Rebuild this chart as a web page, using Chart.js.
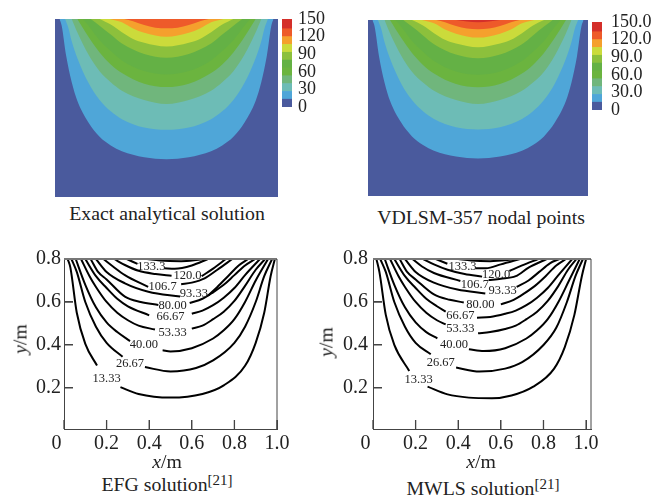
<!DOCTYPE html>
<html lang="en">

<head>
  <meta charset="UTF-8" />
  <title>Contour comparison</title>
  <style>
    body { margin: 0; background: #fff; width: 668px; height: 497px; overflow: hidden; position: relative; }
    canvas { position: absolute; }
    .cap { position: absolute; font: 19.8px "Liberation Serif", serif; color: #222; white-space: nowrap; transform: translate(-50%, -50%); }
    .cap sup { font-size: 15px; line-height: 0; vertical-align: 6px; }
    .rot { transform: translate(-50%, -50%) rotate(-90deg); }
  </style>
</head>

<body>
  <canvas id="bandsExact" width="223" height="178" style="left:55px;top:19px"></canvas>
  <canvas id="barExact" width="60" height="108" style="left:282px;top:9px"></canvas>
  <canvas id="bandsVdlsm" width="220" height="176" style="left:368px;top:20px"></canvas>
  <canvas id="barVdlsm" width="72" height="108" style="left:592px;top:12px"></canvas>
  <canvas id="efg" width="277" height="215" style="left:20px;top:247px"></canvas>
  <canvas id="mwls" width="285" height="215" style="left:326px;top:247px"></canvas>

  <div class="cap" style="left:167px;top:213px">Exact analytical solution</div>
  <div class="cap" style="left:481px;top:217px">VDLSM-357 nodal points</div>
  <div class="cap" style="left:167px;top:484px">EFG solution<sup>[21]</sup></div>
  <div class="cap" style="left:483px;top:488px">MWLS solution<sup>[21]</sup></div>
  <div class="cap" style="left:167px;top:461px"><i>x</i>/m</div>
  <div class="cap" style="left:481px;top:461px"><i>x</i>/m</div>
  <div class="cap rot" style="left:20px;top:339px"><i>y</i>/m</div>
  <div class="cap rot" style="left:326px;top:342px"><i>y</i>/m</div>

  <script src="https://cdn.jsdelivr.net/npm/chart.js@4.4.1/dist/chart.umd.min.js"></script>

  <script>
    // colour bands, dark blue at the bottom up to red at the top
    const bandColors = ["#4a5a9d", "#4fa6d8", "#6dbcb6", "#70b67c", "#6bb43f", "#64b145", "#8cc03c", "#cbdb3b", "#f5a02d", "#ee5a2a", "#d42f2a"];
    const barSteps = [13.3, 13.3, 13.3, 13.4, 13.3, 13.4, 13.3, 13.4, 13.3, 13.4, 16.6];
    const barTicks = [0, 30, 60, 90, 120, 150];

    const band0 = [[0, 0], [1, 0]];
    const band1 = [[.02, .8], [.03, .77], [.05, .635], [.075, .516], [.1, .433], [.15, .335], [.2, .271], [.25, .232], [.3, .206], [.4, .179], [.5, .17], [.6, .179], [.7, .206], [.75, .232], [.8, .271], [.85, .335], [.9, .433], [.925, .516], [.95, .635], [.97, .77], [.98, .8]];
    const band2 = [[.045, .8], [.06, .76], [.075, .7], [.1, .625], [.15, .513], [.2, .436], [.25, .385], [.3, .35], [.4, .312], [.5, .302], [.6, .312], [.7, .35], [.75, .385], [.8, .436], [.85, .513], [.9, .625], [.925, .7], [.94, .76], [.955, .8]];
    const band3 = [[.075, .8], [.1, .74], [.15, .64], [.2, .565], [.25, .516], [.3, .478], [.4, .436], [.5, .418], [.6, .436], [.7, .478], [.75, .516], [.8, .565], [.85, .64], [.9, .74], [.925, .8]];
    const band4 = [[.1, .8], [.15, .72], [.2, .65], [.25, .596], [.3, .557], [.4, .509], [.5, .494], [.6, .509], [.7, .557], [.75, .596], [.8, .65], [.85, .72], [.9, .8]];
    const band5 = [[.125, .8], [.15, .77], [.2, .705], [.25, .656], [.3, .614], [.4, .566], [.5, .551], [.6, .566], [.7, .614], [.75, .656], [.8, .705], [.85, .77], [.875, .8]];
    const band6 = [[.16, .8], [.2, .77], [.25, .73], [.3, .69], [.4, .643], [.5, .626], [.6, .643], [.7, .69], [.75, .73], [.8, .77], [.84, .8]];
    const band7 = [[.2, .8], [.25, .775], [.3, .74], [.35, .71], [.4, .693], [.5, .676], [.6, .693], [.65, .71], [.7, .74], [.75, .775], [.8, .8]];
    const band8 = [[.245, .8], [.3, .785], [.35, .757], [.4, .738], [.5, .72], [.6, .738], [.65, .757], [.7, .785], [.755, .8]];
    const band9 = [[.31, .8], [.35, .79], [.4, .773], [.45, .761], [.5, .758], [.55, .761], [.6, .773], [.65, .79], [.69, .8]];
    const band10 = [[.4, .8], [.45, .793], [.5, .79], [.55, .793], [.6, .8]];
    const exactBands = [band9, band8, band7, band6, band5, band4, band3, band2, band1, band0];
    const vdlsmBands = [band10, band9, band8, band7, band6, band5, band4, band3, band2, band1, band0];

    // EFG contour lines, split where the level label sits
    const efg13L = [[.017, .8], [.03, .76], [.06, .55], [.1, .405], [.155, .304]];
    const efg13R = [[.265, .204], [.35, .172], [.5, .155], [.65, .172], [.75, .212], [.85, .303], [.9, .41], [.94, .55], [.97, .72], [.99, .8]];
    const efg26L = [[.035, .8], [.06, .74], [.1, .6], [.15, .485], [.2, .41], [.275, .345]];
    const efg26R = [[.38, .297], [.5, .277], [.62, .293], [.7, .328], [.8, .41], [.85, .485], [.9, .6], [.94, .72], [.977, .8]];
    const efg40L = [[.055, .8], [.1, .68], [.15, .575], [.2, .505], [.25, .46], [.31, .418]];
    const efg40R = [[.463, .375], [.5, .37], [.6, .385], [.7, .43], [.75, .468], [.8, .52], [.85, .6], [.9, .7], [.958, .8]];
    const efg53L = [[.08, .8], [.12, .72], [.15, .67], [.2, .6], [.25, .55], [.3, .515], [.35, .49], [.427, .472]];
    const efg53R = [[.6, .476], [.65, .49], [.7, .52], [.75, .555], [.8, .605], [.85, .675], [.9, .75], [.944, .8]];
    const efg66L = [[.1, .8], [.15, .72], [.2, .665], [.25, .615], [.3, .58], [.4, .538]];
    const efg66R = [[.6, .545], [.65, .56], [.7, .585], [.75, .62], [.8, .665], [.85, .725], [.92, .8]];
    const efg80L = [[.125, .8], [.16, .74], [.2, .705], [.286, .625], [.36, .6], [.443, .586]];
    const efg80R = [[.59, .595], [.65, .615], [.7, .645], [.75, .68], [.8, .725], [.85, .77], [.897, .8]];
    const efg93L = [[.15, .8], [.2, .74], [.286, .687], [.396, .648], [.545, .625]];
    const efg93R = [[.676, .63], [.72, .67], [.77, .72], [.82, .77], [.864, .8]];
    const efg106L = [[.185, .8], [.23, .765], [.286, .725], [.395, .67]];
    const efg106R = [[.55, .682], [.6, .69], [.66, .71], [.72, .75], [.79, .8]];
    const efg120L = [[.235, .8], [.286, .772], [.35, .745], [.43, .73], [.505, .722]];
    const efg120R = [[.646, .72], [.7, .755], [.76, .8]];
    const efg133L = [[.295, .8], [.345, .777]];
    const efg133R = [[.47, .757], [.52, .755], [.6, .77], [.676, .8]];
    const efgTop = [[.39, .8], [.45, .793], [.55, .79], [.62, .795], [.66, .8]];
    const efgArcs = [efg13L, efg13R, efg26L, efg26R, efg40L, efg40R, efg53L, efg53R, efg66L, efg66R, efg80L, efg80R, efg93L, efg93R, efg106L, efg106R, efg120L, efg120R, efg133L, efg133R, efgTop];

    // MWLS contour lines
    const mwls13L = [[.016, .8], [.03, .74], [.06, .54], [.1, .4], [.17, .279]];
    const mwls13R = [[.256, .206], [.35, .17], [.45, .155], [.558, .152], [.65, .165], [.75, .205], [.85, .29], [.9, .39], [.945, .54], [.98, .72], [1, .8]];
    const mwls26L = [[.034, .8], [.06, .74], [.1, .6], [.15, .485], [.2, .41], [.271, .357]];
    const mwls26R = [[.39, .295], [.5, .276], [.62, .29], [.7, .32], [.8, .4], [.86, .48], [.91, .6], [.95, .72], [.985, .8]];
    const mwls40L = [[.055, .8], [.1, .68], [.15, .575], [.2, .505], [.25, .46], [.302, .431]];
    const mwls40R = [[.45, .38], [.52, .372], [.62, .385], [.72, .43], [.77, .468], [.82, .52], [.87, .6], [.92, .7], [.97, .8]];
    const mwls53L = [[.08, .8], [.12, .72], [.15, .67], [.2, .6], [.25, .55], [.3, .515], [.341, .496]];
    const mwls53R = [[.493, .454], [.55, .46], [.62, .474], [.67, .49], [.72, .52], [.77, .555], [.82, .605], [.87, .675], [.915, .75], [.955, .8]];
    const mwls66L = [[.1, .8], [.15, .72], [.2, .665], [.25, .615], [.3, .58], [.341, .555]];
    const mwls66R = [[.488, .527], [.55, .53], [.62, .545], [.67, .56], [.72, .585], [.77, .62], [.82, .665], [.87, .725], [.935, .8]];
    const mwls80L = [[.125, .8], [.16, .74], [.2, .705], [.286, .635], [.36, .61], [.426, .598]];
    const mwls80R = [[.6, .589], [.66, .61], [.71, .64], [.76, .675], [.81, .72], [.86, .77], [.905, .8]];
    const mwls93L = [[.15, .8], [.2, .74], [.286, .69], [.396, .658], [.527, .64]];
    const mwls93R = [[.674, .67], [.73, .7], [.78, .74], [.83, .78], [.875, .8]];
    const mwls106L = [[.185, .8], [.23, .765], [.286, .735], [.41, .698]];
    const mwls106R = [[.543, .702], [.6, .708], [.67, .72], [.73, .76], [.815, .8]];
    const mwls120L = [[.235, .8], [.286, .775], [.35, .75], [.43, .73], [.512, .718]];
    const mwls120R = [[.64, .744], [.7, .77], [.775, .8]];
    const mwls133L = [[.295, .8], [.349, .778]];
    const mwls133R = [[.48, .757], [.53, .757], [.6, .775], [.69, .8]];
    const mwlsTop = [[.4, .8], [.46, .793], [.55, .79], [.63, .795], [.67, .8]];
    const mwlsArcs = [mwls13L, mwls13R, mwls26L, mwls26R, mwls40L, mwls40R, mwls53L, mwls53R, mwls66L, mwls66R, mwls80L, mwls80R, mwls93L, mwls93R, mwls106L, mwls106R, mwls120L, mwls120R, mwls133L, mwls133R, mwlsTop];

    const levelNames = ["133.3", "120.0", "106.7", "93.33", "80.00", "66.67", "53.33", "40.00", "26.67", "13.33"];
    const efgLabelX = [.41, .58, .463, .61, .51, .5, .51, .375, .31, .2];
    const efgLabelY = [.764, .72, .671, .64, .583, .532, .459, .4, .315, .242];
    const mwlsLabelX = [.42, .578, .478, .608, .504, .41, .41, .38, .318, .214];
    const mwlsLabelY = [.764, .729, .679, .653, .586, .536, .474, .403, .318, .239];

    const xTicks = [0, .2, .4, .6, .8, 1];
    const yTicks = [.2, .4, .6, .8];
    const serif = "'Liberation Serif', serif";

    // stop the scales from pushing the plot area in for their outer labels
    const noPadding = (s) => {
      s.paddingTop = 0;
      s.paddingBottom = 0;
      s.paddingLeft = 0;
      s.paddingRight = 0;
    };

    const bandChart = (id, bands) => new Chart(document.getElementById(id), {
      type: "line",
      data: {
        datasets: bands.map((b, i) => ({
          data: b,
          fill: "end",
          backgroundColor: bandColors[bands.length - 1 - i],
          borderWidth: 0,
          pointRadius: 0,
          cubicInterpolationMode: "monotone",
        })),
      },
      options: {
        responsive: false,
        animation: false,
        events: [],
        plugins: { legend: { display: false }, tooltip: { enabled: false } },
        scales: {
          x: { type: "linear", display: false, min: 0, max: 1 },
          y: { display: false, min: 0, max: .8 },
        },
      },
    });

    const barChart = (id, tickText, gap, barWidth) => new Chart(document.getElementById(id), {
      type: "bar",
      data: {
        labels: [""],
        datasets: barSteps.map((v, i) => ({ data: [v], backgroundColor: bandColors[i], barPercentage: 1, categoryPercentage: 1 })),
      },
      options: {
        responsive: false,
        animation: false,
        events: [],
        layout: { padding: { top: 10, bottom: 10 } },
        plugins: { legend: { display: false }, tooltip: { enabled: false } },
        scales: {
          x: { stacked: true, display: false },
          y: {
            stacked: true,
            position: "right",
            min: 0,
            max: 150,
            afterBuildTicks: (s) => { s.ticks = barTicks.map((v) => ({ value: v })); },
            afterFit: (s) => { s.width = document.getElementById(id).width - barWidth; noPadding(s); },
            border: { display: false },
            grid: { display: false, drawTicks: false },
            ticks: { autoSkip: false, padding: gap, color: "#222", font: { family: serif, size: 18 }, callback: tickText },
          },
        },
      },
    });

    // inward ticks, level labels and the top/right edges of the contour frames
    const framePlugin = {
      id: "frame",
      afterDraw(chart, args, opts) {
        const { ctx, chartArea: a, scales } = chart;
        ctx.save();
        ctx.strokeStyle = "#444";
        ctx.lineWidth = 1.3;
        ctx.beginPath();
        scales.x.ticks.forEach((t) => {
          const px = scales.x.getPixelForValue(t.value);
          ctx.moveTo(px, a.bottom);
          ctx.lineTo(px, a.bottom - 9);
        });
        scales.y.ticks.forEach((t) => {
          const py = scales.y.getPixelForValue(t.value);
          ctx.moveTo(a.left, py);
          ctx.lineTo(a.left + 9, py);
        });
        ctx.stroke();
        ctx.strokeStyle = "#777";
        ctx.lineWidth = 2;
        ctx.beginPath();
        ctx.moveTo(a.left, a.top);
        ctx.lineTo(a.right, a.top);
        ctx.stroke();
        ctx.strokeStyle = "#444";
        ctx.lineWidth = 1;
        ctx.beginPath();
        ctx.moveTo(a.right, a.top);
        ctx.lineTo(a.right, a.bottom);
        ctx.stroke();
        ctx.fillStyle = "#222";
        ctx.font = "12.5px " + serif;
        ctx.textAlign = "center";
        ctx.textBaseline = "middle";
        levelNames.forEach((t, i) => {
          ctx.fillText(t, scales.x.getPixelForValue(opts.xs[i]), scales.y.getPixelForValue(opts.ys[i]));
        });
        ctx.restore();
      },
    };

    const contourChart = (id, arcs, xs, ys, xMax, yWidth, yGap) => new Chart(document.getElementById(id), {
      type: "line",
      data: {
        datasets: arcs.map((a) => ({
          data: a,
          borderColor: "#000",
          borderWidth: 2,
          pointRadius: 0,
          fill: false,
          cubicInterpolationMode: "monotone",
        })),
      },
      options: {
        responsive: false,
        animation: false,
        events: [],
        layout: { padding: { top: 12, right: 20 } },
        plugins: { legend: { display: false }, tooltip: { enabled: false }, frame: { xs, ys } },
        scales: {
          x: {
            type: "linear",
            min: 0,
            max: xMax,
            afterBuildTicks: (s) => { s.ticks = xTicks.map((v) => ({ value: v })); },
            afterFit: (s) => { s.height = 33; noPadding(s); },
            border: { color: "#444" },
            grid: { drawOnChartArea: false, tickLength: -9, color: "#444" },
            ticks: {
              autoSkip: false, maxRotation: 0, padding: 12, color: "#222", font: { family: serif, size: 20 },
              callback: (v) => (v === 0 ? "0   " : v.toFixed(1)),
            },
          },
          y: {
            min: .009,
            max: .8,
            afterBuildTicks: (s) => { s.ticks = yTicks.map((v) => ({ value: v })); },
            afterFit: (s) => { s.width = yWidth; noPadding(s); },
            border: { color: "#444" },
            grid: { drawOnChartArea: false, tickLength: -9, color: "#444" },
            ticks: {
              autoSkip: false, padding: yGap, color: "#222", font: { family: serif, size: 20 },
              callback: (v) => v.toFixed(1),
            },
          },
        },
      },
      plugins: [framePlugin],
    });

    bandChart("bandsExact", exactBands);
    bandChart("bandsVdlsm", vdlsmBands);
    barChart("barExact", (v) => String(v), 6, 10);
    barChart("barVdlsm", (v) => (v === 0 ? "0" : v.toFixed(1)), 9, 10);
    contourChart("efg", efgArcs, efgLabelX, efgLabelY, 1, 44, 12);
    contourChart("mwls", mwlsArcs, mwlsLabelX, mwlsLabelY, 1.023, 47, 14);
  </script>
</body>

</html>
